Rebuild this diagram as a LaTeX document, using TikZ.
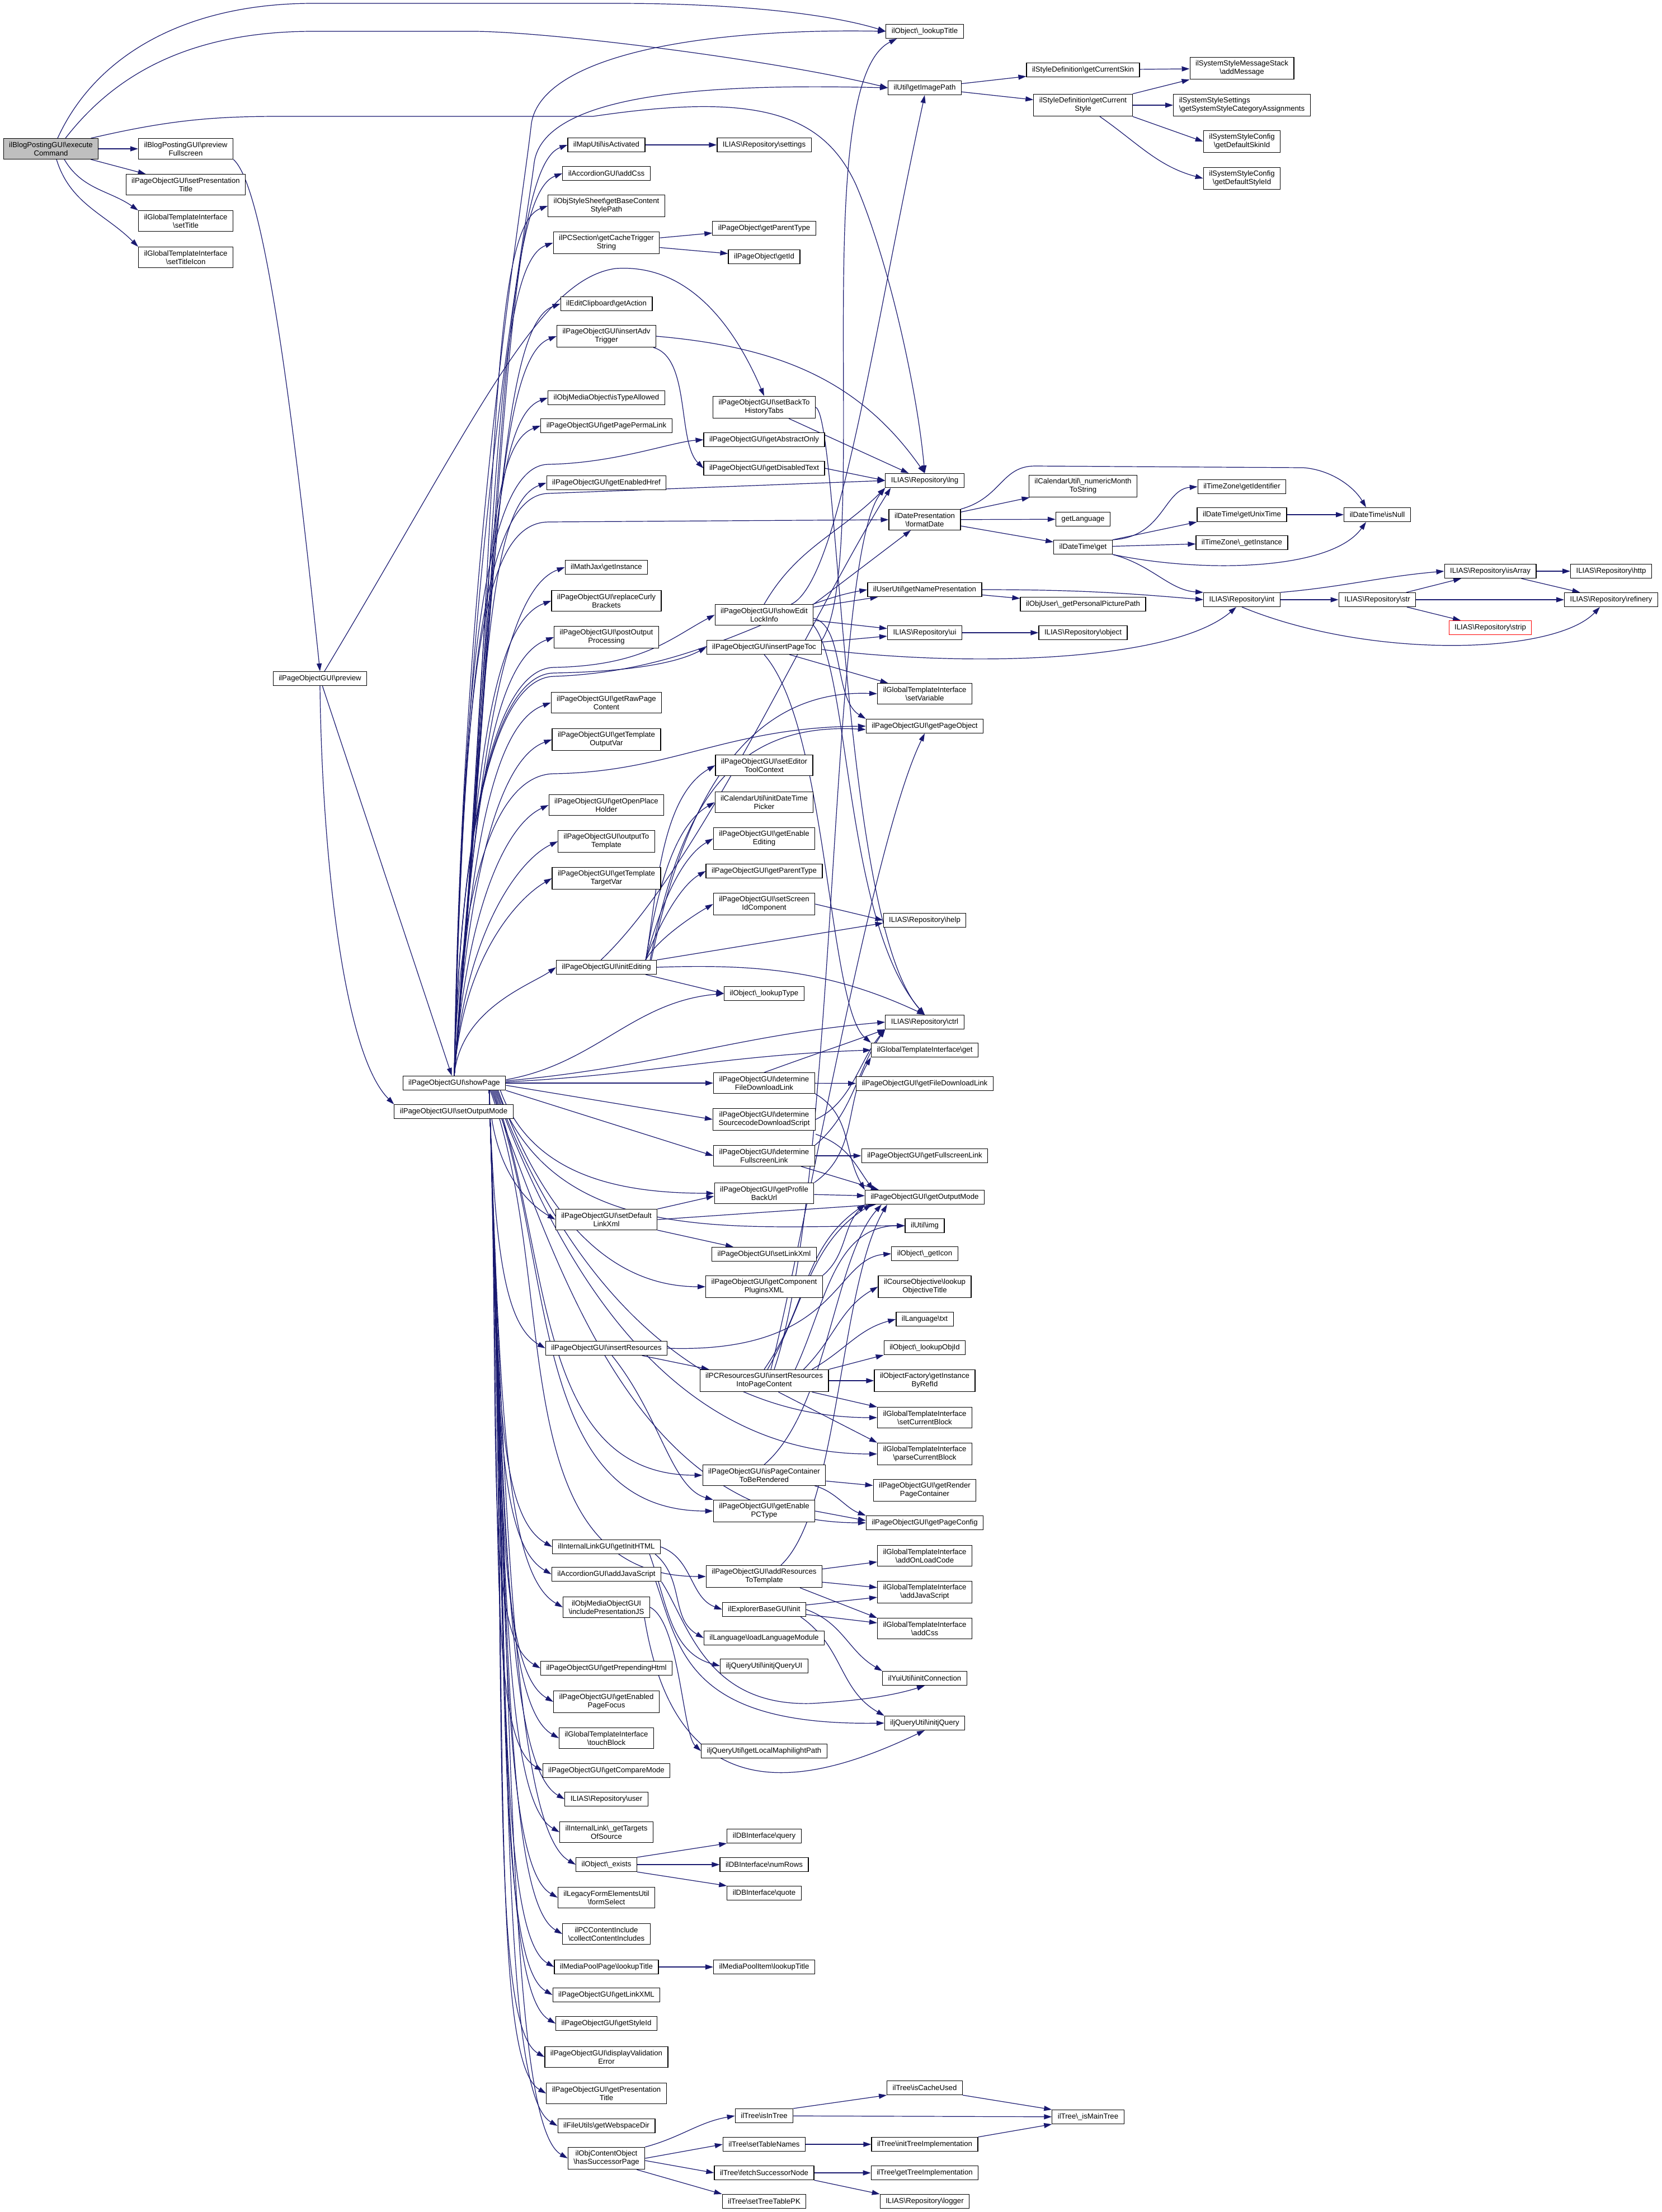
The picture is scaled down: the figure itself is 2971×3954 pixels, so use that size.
\documentclass[tikz,border=0pt]{standalone}
\usepackage{fontspec}
\setmainfont{Liberation Sans}
\usepackage{xcolor}
\usepackage{tikz}
\usetikzlibrary{arrows.meta,backgrounds}

\definecolor{edgeblue}{RGB}{25,25,112}
\definecolor{rootgray}{RGB}{191,191,191}
\newcommand{\bsl}{\textbackslash}

\begin{document}
\begin{tikzpicture}[x=1pt, y=-1pt,
  fn/.style={draw=black, line width=1.2pt, fill=white, align=center,
    font=\fontsize{13.2}{15}\selectfont, inner xsep=10pt, inner ysep=6pt,
    minimum height=25pt},
  rootfn/.style={fn, fill=rootgray},
  cutfn/.style={fn, draw=red},
  edge/.style={draw=edgeblue, line width=1.2pt, -{Triangle[length=14pt,width=9pt]}}
]
\useasboundingbox (0,0) rectangle (2971,3954);

% caller and first level
\node[rootfn] (exec) at (91,266) {ilBlogPostingGUI\bsl execute\\Command};
\node[fn] (prevFull) at (332,266) {ilBlogPostingGUI\bsl preview\\Fullscreen};
\node[fn] (setPresTitle) at (332,330) {ilPageObjectGUI\bsl setPresentation\\Title};
\node[fn] (setTitle) at (332,395) {ilGlobalTemplateInterface\\\bsl setTitle};
\node[fn] (setTitleIcon) at (332,460) {ilGlobalTemplateInterface\\\bsl setTitleIcon};
\node[fn] (preview) at (572,1213) {ilPageObjectGUI\bsl preview};
\node[fn] (showPage) at (812,1936) {ilPageObjectGUI\bsl showPage};
\node[fn] (setOutMode) at (811,1987) {ilPageObjectGUI\bsl setOutputMode};

% column called by showPage
\node[fn] (mapAct) at (1084,259) {ilMapUtil\bsl isActivated};
\node[fn] (accCss) at (1084,310) {ilAccordionGUI\bsl addCss};
\node[fn] (baseStyle) at (1084,368) {ilObjStyleSheet\bsl getBaseContent\\StylePath};
\node[fn] (cacheTrig) at (1084,434) {ilPCSection\bsl getCacheTrigger\\String};
\node[fn] (clipAct) at (1084,543) {ilEditClipboard\bsl getAction};
\node[fn] (advTrig) at (1084,601) {ilPageObjectGUI\bsl insertAdv\\Trigger};
\node[fn] (typeAllowed) at (1084,711) {ilObjMediaObject\bsl isTypeAllowed};
\node[fn] (permaLink) at (1084,761) {ilPageObjectGUI\bsl getPagePermaLink};
\node[fn] (enHref) at (1084,863) {ilPageObjectGUI\bsl getEnabledHref};
\node[fn] (mathJax) at (1084,1014) {ilMathJax\bsl getInstance};
\node[fn] (curly) at (1084,1074) {ilPageObjectGUI\bsl replaceCurly\\Brackets};
\node[fn] (postOut) at (1084,1139) {ilPageObjectGUI\bsl postOutput\\Processing};
\node[fn] (rawPage) at (1084,1256) {ilPageObjectGUI\bsl getRawPage\\Content};
\node[fn] (tplOut) at (1084,1322) {ilPageObjectGUI\bsl getTemplate\\OutputVar};
\node[fn] (openPH) at (1084,1439) {ilPageObjectGUI\bsl getOpenPlace\\Holder};
\node[fn] (outTpl) at (1084,1504) {ilPageObjectGUI\bsl outputTo\\Template};
\node[fn] (tplTarget) at (1084,1570) {ilPageObjectGUI\bsl getTemplate\\TargetVar};
\node[fn] (initEdit) at (1084,1729) {ilPageObjectGUI\bsl initEditing};
\node[fn] (defLink) at (1084,2180) {ilPageObjectGUI\bsl setDefault\\LinkXml};
\node[fn] (insRes) at (1084,2410) {ilPageObjectGUI\bsl insertResources};
\node[fn] (initHTML) at (1084,2765) {ilInternalLinkGUI\bsl getInitHTML};
\node[fn] (accJS) at (1084,2814) {ilAccordionGUI\bsl addJavaScript};
\node[fn] (presJS) at (1084,2873) {ilObjMediaObjectGUI\\\bsl includePresentationJS};
\node[fn] (prepHtml) at (1084,2982) {ilPageObjectGUI\bsl getPrependingHtml};
\node[fn] (pageFocus) at (1084,3042) {ilPageObjectGUI\bsl getEnabled\\PageFocus};
\node[fn] (touchBlock) at (1084,3107) {ilGlobalTemplateInterface\\\bsl touchBlock};
\node[fn] (compMode) at (1084,3165) {ilPageObjectGUI\bsl getCompareMode};
\node[fn] (repUser) at (1084,3216) {ILIAS\bsl Repository\bsl user};
\node[fn] (targets) at (1084,3275) {ilInternalLink\bsl\_getTargets\\OfSource};
\node[fn] (objExists) at (1084,3333) {ilObject\bsl\_exists};
\node[fn] (formSel) at (1084,3392) {ilLegacyFormElementsUtil\\\bsl formSelect};
\node[fn] (contInc) at (1084,3457) {ilPCContentInclude\\\bsl collectContentIncludes};
\node[fn] (mpPage) at (1084,3516) {ilMediaPoolPage\bsl lookupTitle};
\node[fn] (linkXML) at (1084,3566) {ilPageObjectGUI\bsl getLinkXML};
\node[fn] (styleId) at (1084,3617) {ilPageObjectGUI\bsl getStyleId};
\node[fn] (valErr) at (1084,3677) {ilPageObjectGUI\bsl displayValidation\\Error};
\node[fn] (getPresTitle) at (1084,3742) {ilPageObjectGUI\bsl getPresentation\\Title};
\node[fn] (webDir) at (1084,3800) {ilFileUtils\bsl getWebspaceDir};
\node[fn] (hasSucc) at (1084,3858) {ilObjContentObject\\\bsl hasSuccessorPage};

% next column
\node[fn] (repSettings) at (1366,259) {ILIAS\bsl Repository\bsl settings};
\node[fn] (poParent) at (1366,408) {ilPageObject\bsl getParentType};
\node[fn] (poId) at (1366,459) {ilPageObject\bsl getId};
\node[fn] (backTabs) at (1366,728) {ilPageObjectGUI\bsl setBackTo\\HistoryTabs};
\node[fn] (absOnly) at (1366,786) {ilPageObjectGUI\bsl getAbstractOnly};
\node[fn] (disText) at (1366,837) {ilPageObjectGUI\bsl getDisabledText};
\node[fn] (lockInfo) at (1366,1099) {ilPageObjectGUI\bsl showEdit\\LockInfo};
\node[fn] (pageToc) at (1366,1157) {ilPageObjectGUI\bsl insertPageToc};
\node[fn] (toolCtx) at (1366,1368) {ilPageObjectGUI\bsl setEditor\\ToolContext};
\node[fn] (dtPicker) at (1366,1434) {ilCalendarUtil\bsl initDateTime\\Picker};
\node[fn] (enEdit) at (1366,1499) {ilPageObjectGUI\bsl getEnable\\Editing};
\node[fn] (guiParent) at (1366,1557) {ilPageObjectGUI\bsl getParentType};
\node[fn] (screenId) at (1366,1616) {ilPageObjectGUI\bsl setScreen\\IdComponent};
\node[fn] (lookupType) at (1366,1776) {ilObject\bsl\_lookupType};
\node[fn] (detFile) at (1366,1936) {ilPageObjectGUI\bsl determine\\FileDownloadLink};
\node[fn] (detSrc) at (1366,2001) {ilPageObjectGUI\bsl determine\\SourcecodeDownloadScript};
\node[fn] (detFull) at (1366,2066) {ilPageObjectGUI\bsl determine\\FullscreenLink};
\node[fn] (profUrl) at (1366,2133) {ilPageObjectGUI\bsl getProfile\\BackUrl};
\node[fn] (setLink) at (1366,2242) {ilPageObjectGUI\bsl setLinkXml};
\node[fn] (compXML) at (1366,2300) {ilPageObjectGUI\bsl getComponent\\PluginsXML};
\node[fn] (pcRes) at (1366,2468) {ilPCResourcesGUI\bsl insertResources\\IntoPageContent};
\node[fn] (pcRender) at (1366,2637) {ilPageObjectGUI\bsl isPageContainer\\ToBeRendered};
\node[fn] (enPC) at (1366,2701) {ilPageObjectGUI\bsl getEnable\\PCType};
\node[fn] (addRes) at (1366,2818) {ilPageObjectGUI\bsl addResources\\ToTemplate};
\node[fn] (explInit) at (1366,2877) {ilExplorerBaseGUI\bsl init};
\node[fn] (loadLang) at (1366,2928) {ilLanguage\bsl loadLanguageModule};
\node[fn] (jqUI) at (1366,2978) {iljQueryUtil\bsl initjQueryUI};
\node[fn] (maphi) at (1366,3130) {iljQueryUtil\bsl getLocalMaphilightPath};
\node[fn] (dbQuery) at (1366,3282) {ilDBInterface\bsl query};
\node[fn] (dbRows) at (1366,3333) {ilDBInterface\bsl numRows};
\node[fn] (dbQuote) at (1366,3384) {ilDBInterface\bsl quote};
\node[fn] (mpItem) at (1366,3516) {ilMediaPoolItem\bsl lookupTitle};
\node[fn] (inTree) at (1366,3782) {ilTree\bsl isInTree};
\node[fn] (tabNames) at (1366,3833) {ilTree\bsl setTableNames};
\node[fn] (fetchSucc) at (1366,3884) {ilTree\bsl fetchSuccessorNode};
\node[fn] (tablePK) at (1366,3935) {ilTree\bsl setTreeTablePK};

% third column
\node[fn] (lookupTitle) at (1653,56) {ilObject\bsl\_lookupTitle};
\node[fn] (imgPath) at (1653,157) {ilUtil\bsl getImagePath};
\node[fn] (repLng) at (1653,859) {ILIAS\bsl Repository\bsl lng};
\node[fn] (fmtDate) at (1653,929) {ilDatePresentation\\\bsl formatDate};
\node[fn] (namePres) at (1653,1054) {ilUserUtil\bsl getNamePresentation};
\node[fn] (repUi) at (1653,1131) {ILIAS\bsl Repository\bsl ui};
\node[fn] (setVar) at (1653,1240) {ilGlobalTemplateInterface\\\bsl setVariable};
\node[fn] (getPO) at (1653,1298) {ilPageObjectGUI\bsl getPageObject};
\node[fn] (repHelp) at (1653,1645) {ILIAS\bsl Repository\bsl help};
\node[fn] (repCtrl) at (1653,1827) {ILIAS\bsl Repository\bsl ctrl};
\node[fn] (tplGet) at (1653,1877) {ilGlobalTemplateInterface\bsl get};
\node[fn] (fileLink) at (1653,1937) {ilPageObjectGUI\bsl getFileDownloadLink};
\node[fn] (fullLink) at (1653,2066) {ilPageObjectGUI\bsl getFullscreenLink};
\node[fn] (outMode) at (1653,2140) {ilPageObjectGUI\bsl getOutputMode};
\node[fn] (utilImg) at (1653,2191) {ilUtil\bsl img};
\node[fn] (getIcon) at (1653,2241) {ilObject\bsl\_getIcon};
\node[fn] (objTitle) at (1653,2300) {ilCourseObjective\bsl lookup\\ObjectiveTitle};
\node[fn] (langTxt) at (1653,2358) {ilLanguage\bsl txt};
\node[fn] (lookupObjId) at (1653,2409) {ilObject\bsl\_lookupObjId};
\node[fn] (byRefId) at (1653,2468) {ilObjectFactory\bsl getInstance\\ByRefId};
\node[fn] (setBlock) at (1653,2534) {ilGlobalTemplateInterface\\\bsl setCurrentBlock};
\node[fn] (parseBlock) at (1653,2599) {ilGlobalTemplateInterface\\\bsl parseCurrentBlock};
\node[fn] (renderPC) at (1653,2664) {ilPageObjectGUI\bsl getRender\\PageContainer};
\node[fn] (pageConfig) at (1653,2722) {ilPageObjectGUI\bsl getPageConfig};
\node[fn] (onLoad) at (1653,2781) {ilGlobalTemplateInterface\\\bsl addOnLoadCode};
\node[fn] (tplJS) at (1653,2846) {ilGlobalTemplateInterface\\\bsl addJavaScript};
\node[fn] (tplCss) at (1653,2911) {ilGlobalTemplateInterface\\\bsl addCss};
\node[fn] (yuiConn) at (1653,3000) {ilYuiUtil\bsl initConnection};
\node[fn] (jq) at (1653,3080) {iljQueryUtil\bsl initjQuery};
\node[fn] (cacheUsed) at (1653,3732) {ilTree\bsl isCacheUsed};
\node[fn] (initTree) at (1653,3833) {ilTree\bsl initTreeImplementation};
\node[fn] (getTree) at (1653,3884) {ilTree\bsl getTreeImplementation};
\node[fn] (repLogger) at (1653,3935) {ILIAS\bsl Repository\bsl logger};

% right part
\node[fn] (curSkin) at (1936,125) {ilStyleDefinition\bsl getCurrentSkin};
\node[fn] (curStyle) at (1936,188) {ilStyleDefinition\bsl getCurrent\\Style};
\node[fn] (monthStr) at (1936,869) {ilCalendarUtil\bsl\_numericMonth\\ToString};
\node[fn] (getLang) at (1936,928) {getLanguage};
\node[fn] (dtGet) at (1936,978) {ilDateTime\bsl get};
\node[fn] (picPath) at (1936,1080) {ilObjUser\bsl\_getPersonalPicturePath};
\node[fn] (repObject) at (1936,1131) {ILIAS\bsl Repository\bsl object};
\node[fn] (mainTree) at (1945,3784) {ilTree\bsl\_isMainTree};
\node[fn] (addMsg) at (2220,122) {ilSystemStyleMessageStack\\\bsl addMessage};
\node[fn, align=left] (catAssign) at (2220,188) {ilSystemStyleSettings\\\bsl getSystemStyleCategoryAssignments};
\node[fn] (skinId) at (2220,253) {ilSystemStyleConfig\\\bsl getDefaultSkinId};
\node[fn] (styleIdCfg) at (2220,319) {ilSystemStyleConfig\\\bsl getDefaultStyleId};
\node[fn] (tzId) at (2220,870) {ilTimeZone\bsl getIdentifier};
\node[fn] (unixTime) at (2220,920) {ilDateTime\bsl getUnixTime};
\node[fn] (tzInst) at (2220,970) {ilTimeZone\bsl\_getInstance};
\node[fn] (repInt) at (2220,1072) {ILIAS\bsl Repository\bsl int};
\node[fn] (isNull) at (2462,920) {ilDateTime\bsl isNull};
\node[fn] (repStr) at (2462,1072) {ILIAS\bsl Repository\bsl str};
\node[fn] (isArray) at (2664,1021) {ILIAS\bsl Repository\bsl isArray};
\node[cutfn] (strip) at (2664,1122) {ILIAS\bsl Repository\bsl strip};
\node[fn] (http) at (2880,1021) {ILIAS\bsl Repository\bsl http};
\node[fn] (refinery) at (2880,1072) {ILIAS\bsl Repository\bsl refinery};

\begin{scope}[on background layer]
% executeCommand
\draw[edge] (exec) -- (prevFull);
\draw[edge] (exec) -- (setPresTitle);
\draw[edge] ([xshift=24pt]exec.south) .. controls +(-60:62pt) and +(145:62pt) .. (setTitle.north west);
\draw[edge] ([xshift=10pt]exec.south) .. controls +(-73:83pt) and +(135:83pt) .. (setTitleIcon.north west);
\draw[edge] ([xshift=12pt]exec.north) .. controls (170,100) and (330,6) .. (560,6) -- (1100,6) .. controls (1350,6) and (1500,30) .. (lookupTitle.west);
\draw[edge] ([xshift=26pt]exec.north) .. controls (200,140) and (330,56) .. (560,56) -- (850,56) .. controls (1000,58) and (1400,110) .. (imgPath.west);
\draw[edge] ([xshift=-14pt]exec.north east) .. controls (300,215) and (380,208) .. (500,208) -- (1060,208) .. controls (1350,165) and (1470,200) .. (1530,330) .. controls (1590,470) and (1640,700) .. (repLng.north);
\draw[edge] (prevFull.south east) .. controls (470,330) and (520,700) .. (preview.north);

% preview
\draw[edge] (preview) -- (showPage);
\draw[edge] (preview.south) .. controls (575,1500) and (610,1880) .. (setOutMode.north west);
\draw[edge] ([xshift=8pt]preview.north) .. controls (850,750) and (960,500) .. (1100,480) .. controls (1240,470) and (1320,600) .. (backTabs.north);

% showPage, upwards
\draw[edge] (showPage.north) .. controls +(85:1000pt) and +(200:120pt) .. (mapAct.west);
\draw[edge] (showPage.north) .. controls +(85:970pt) and +(200:120pt) .. (accCss.west);
\draw[edge] (showPage.north) .. controls +(85:930pt) and +(200:120pt) .. (baseStyle.west);
\draw[edge] (showPage.north) .. controls +(85:890pt) and +(200:120pt) .. (cacheTrig.west);
\draw[edge] (showPage.north) .. controls +(85:830pt) and +(200:120pt) .. (clipAct.west);
\draw[edge] (showPage.north) .. controls +(85:790pt) and +(200:120pt) .. (advTrig.west);
\draw[edge] (showPage.north) .. controls +(85:730pt) and +(200:120pt) .. (typeAllowed.west);
\draw[edge] (showPage.north) .. controls +(85:700pt) and +(200:120pt) .. (permaLink.west);
\draw[edge] (showPage.north) .. controls +(85:640pt) and +(200:120pt) .. (enHref.west);
\draw[edge] (showPage.north) .. controls +(86:545pt) and +(200:120pt) .. (mathJax.west);
\draw[edge] (showPage.north) .. controls +(86:510pt) and +(200:120pt) .. (curly.west);
\draw[edge] (showPage.north) .. controls +(86:470pt) and +(200:120pt) .. (postOut.west);
\draw[edge] (showPage.north) .. controls +(86:400pt) and +(200:110pt) .. (rawPage.west);
\draw[edge] (showPage.north) .. controls +(86:360pt) and +(200:100pt) .. (tplOut.west);
\draw[edge] (showPage.north) .. controls +(86:290pt) and +(205:88pt) .. (openPH.west);
\draw[edge] (showPage.north) .. controls +(86:250pt) and +(205:80pt) .. (outTpl.west);
\draw[edge] (showPage.north) .. controls +(86:210pt) and +(210:72pt) .. (tplTarget.west);
\draw[edge] (showPage.north) .. controls +(85:120pt) and +(215:55pt) .. (initEdit.west);
\draw[edge] (showPage.north) .. controls (825,1000) and (930,400) .. (950,220) .. controls (970,100) and (1250,50) .. (lookupTitle.west);
\draw[edge] (showPage.north) .. controls (828,1000) and (935,450) .. (955,290) .. controls (975,160) and (1300,150) .. (imgPath.west);
\draw[edge] (showPage.north) .. controls (828,1250) and (860,885) .. (980,882) -- (repLng.west);
\draw[edge] (showPage.north) .. controls (830,1200) and (860,935) .. (980,933) -- (fmtDate.west);
\draw[edge] (showPage.north) .. controls (826,1250) and (860,832) .. (980,830) .. controls (1100,828) and (1200,790) .. (absOnly.west);
\draw[edge] (showPage.north) .. controls (822,1500) and (880,1195) .. (990,1193) .. controls (1150,1190) and (1200,1140) .. (lockInfo.west);
\draw[edge] (showPage.north) .. controls (822,1500) and (880,1205) .. (990,1203) .. controls (1150,1200) and (1220,1180) .. (pageToc.west);
\draw[edge] (showPage.north) .. controls (822,1500) and (880,1212) .. (990,1209) .. controls (1250,1200) and (1400,1080) .. (namePres.west);
\draw[edge] (showPage.north) .. controls (820,1600) and (880,1385) .. (990,1383) .. controls (1200,1380) and (1300,1300) .. (getPO.west);

% showPage, to the right
\draw[edge] ([yshift=6pt]showPage.east) .. controls +(10:164pt) and +(185:164pt) .. (lookupType.west);
\draw[edge] ([yshift=4pt]showPage.east) .. controls +(5:268pt) and +(185:268pt) .. (repCtrl.west);
\draw[edge] ([yshift=2pt]showPage.east) .. controls +(3:256pt) and +(182:256pt) .. (tplGet.west);
\draw[edge] (showPage.east) -- (detFile.west);
\draw[edge] ([yshift=-4pt]showPage.east) -- (detSrc.west);
\draw[edge] (showPage.south east) -- (detFull.west);
\draw[edge] ([xshift=-10pt]showPage.south east) .. controls +(-70:165pt) and +(180:165pt) .. (profUrl.west);
\draw[edge] ([xshift=-14pt]showPage.south east) .. controls +(-70:195pt) and +(180:195pt) .. (compXML.west);
\draw[edge] ([xshift=-16pt]showPage.south east) .. controls +(-70:300pt) and +(180:300pt) .. (utilImg.west);
\draw[edge] ([xshift=-18pt]showPage.south east) .. controls +(-70:340pt) and +(180:340pt) .. (setBlock.west);
\draw[edge] ([xshift=-20pt]showPage.south east) .. controls +(-70:360pt) and +(180:360pt) .. (parseBlock.west);
\draw[edge] ([xshift=-22pt]showPage.south east) .. controls +(-70:305pt) and +(180:305pt) .. (pcRender.west);
\draw[edge] ([xshift=-24pt]showPage.south east) .. controls +(-70:330pt) and +(180:330pt) .. (enPC.west);
\draw[edge] ([xshift=-26pt]showPage.south east) .. controls +(-70:395pt) and +(180:395pt) .. (pageConfig.west);
\draw[edge] ([xshift=-28pt]showPage.south east) .. controls +(-70:370pt) and +(180:370pt) .. (addRes.west);

% showPage, downwards
\draw[edge] ([xshift=-30pt]showPage.south east) .. controls +(-88:140pt) and +(150:58pt) .. (defLink.west);
\draw[edge] ([xshift=-30pt]showPage.south east) .. controls +(-88:280pt) and +(150:85pt) .. (insRes.west);
\draw[edge] ([xshift=-30pt]showPage.south east) .. controls +(-88:490pt) and +(150:120pt) .. (initHTML.west);
\draw[edge] ([xshift=-30pt]showPage.south east) .. controls +(-88:520pt) and +(150:120pt) .. (accJS.west);
\draw[edge] ([xshift=-30pt]showPage.south east) .. controls +(-88:555pt) and +(150:120pt) .. (presJS.west);
\draw[edge] ([xshift=-30pt]showPage.south east) .. controls +(-88:620pt) and +(150:120pt) .. (prepHtml.west);
\draw[edge] ([xshift=-30pt]showPage.south east) .. controls +(-88:655pt) and +(150:120pt) .. (pageFocus.west);
\draw[edge] ([xshift=-30pt]showPage.south east) .. controls +(-88:695pt) and +(150:120pt) .. (touchBlock.west);
\draw[edge] ([xshift=-30pt]showPage.south east) .. controls +(-88:730pt) and +(150:120pt) .. (compMode.west);
\draw[edge] ([xshift=-30pt]showPage.south east) .. controls +(-88:760pt) and +(150:120pt) .. (repUser.west);
\draw[edge] ([xshift=-30pt]showPage.south east) .. controls +(-88:795pt) and +(150:120pt) .. (targets.west);
\draw[edge] ([xshift=-30pt]showPage.south east) .. controls +(-88:830pt) and +(150:120pt) .. (objExists.west);
\draw[edge] ([xshift=-30pt]showPage.south east) .. controls +(-88:865pt) and +(150:120pt) .. (formSel.west);
\draw[edge] ([xshift=-30pt]showPage.south east) .. controls +(-88:905pt) and +(150:120pt) .. (contInc.west);
\draw[edge] ([xshift=-30pt]showPage.south east) .. controls +(-88:940pt) and +(150:120pt) .. (mpPage.west);
\draw[edge] ([xshift=-30pt]showPage.south east) .. controls +(-88:970pt) and +(150:120pt) .. (linkXML.west);
\draw[edge] ([xshift=-30pt]showPage.south east) .. controls +(-88:1000pt) and +(150:120pt) .. (styleId.west);
\draw[edge] ([xshift=-30pt]showPage.south east) .. controls +(-88:1035pt) and +(150:120pt) .. (valErr.west);
\draw[edge] ([xshift=-30pt]showPage.south east) .. controls +(-88:1075pt) and +(150:120pt) .. (getPresTitle.west);
\draw[edge] ([xshift=-30pt]showPage.south east) .. controls +(-88:1110pt) and +(150:120pt) .. (webDir.west);
\draw[edge] ([xshift=-30pt]showPage.south east) .. controls +(-88:1145pt) and +(150:120pt) .. (hasSucc.west);

% second level, upper half
\draw[edge] (mapAct) -- (repSettings);
\draw[edge] (cacheTrig) -- (poParent);
\draw[edge] (cacheTrig) -- (poId);
\draw[edge] (advTrig.east) .. controls +(-5:210pt) and +(125:210pt) .. (repLng.north);
\draw[edge] ([xshift=-5pt]advTrig.south east) .. controls (1235,640) and (1210,790) .. (disText.west);
\draw[edge] (backTabs) -- (repLng);
\draw[edge] (backTabs.east) .. controls (1500,745) and (1505,1650) .. (repCtrl.north);
\draw[edge] (disText.east) -- (repLng.west);
\draw[edge] (lockInfo) -- (namePres);
\draw[edge] (lockInfo) -- (repUi);
\draw[edge] (lockInfo.north east) -- (fmtDate);
\draw[edge] (lockInfo.north) .. controls +(60:117pt) and +(225:117pt) .. (repLng.south west);
\draw[edge] ([xshift=-40pt]lockInfo.north east) .. controls (1500,1040) and (1560,600) .. (imgPath.south);
\draw[edge] ([yshift=-6pt]lockInfo.east) .. controls (1510,1120) and (1490,1250) .. (getPO.north west);
\draw[edge] (lockInfo.south east) .. controls (1520,1200) and (1510,1650) .. (repCtrl.north);
\draw[edge] (pageToc) -- (repUi);
\draw[edge] (pageToc) -- (setVar);
\draw[edge] (pageToc.north east) .. controls (1560,1000) and (1440,150) .. ([xshift=20pt]lookupTitle.south west);
\draw[edge] ([yshift=-4pt]pageToc.east) .. controls (1750,1195) and (2100,1180) .. ([xshift=-10pt]repInt.south);
\draw[edge] (pageToc.south) .. controls (1480,1300) and (1480,1800) .. (tplGet.north west);

% initEditing
\draw[edge] ([xshift=-20pt]initEdit.north east) .. controls +(80:114pt) and +(210:114pt) .. (toolCtx.west);
\draw[edge] ([xshift=-20pt]initEdit.north east) .. controls +(80:94pt) and +(210:94pt) .. (dtPicker.west);
\draw[edge] ([xshift=-20pt]initEdit.north east) .. controls +(75:74pt) and +(210:74pt) .. (enEdit.west);
\draw[edge] ([xshift=-20pt]initEdit.north east) .. controls +(70:56pt) and +(210:56pt) .. (guiParent.west);
\draw[edge] ([xshift=-20pt]initEdit.north east) .. controls +(60:43pt) and +(210:43pt) .. (screenId.west);
\draw[edge] ([xshift=-10pt]initEdit.north east) .. controls (1210,1500) and (1300,1230) .. (setVar.west);
\draw[edge] ([xshift=-12pt]initEdit.north east) .. controls (1215,1450) and (1300,1290) .. ([yshift=-6pt]getPO.west);
\draw[edge] ([xshift=-100pt]initEdit.north east) .. controls (1250,1550) and (1450,1100) .. ([xshift=10pt]repLng.south west);
\draw[edge] (initEdit.north east) -- ([yshift=-5pt]repHelp.west);
\draw[edge] (initEdit.east) .. controls +(2:184pt) and +(155:184pt) .. (repCtrl.north);
\draw[edge] ([xshift=-20pt]initEdit.south east) -- (lookupType.west);
\draw[edge] (screenId.east) -- (repHelp.west);

% determine ... and links
\draw[edge] (detFile) -- (fileLink);
\draw[edge] (detFile.north) .. controls +(20:90pt) and +(200:90pt) .. (repCtrl.south west);
\draw[edge] (detFile.south east) .. controls +(-30:76pt) and +(120:76pt) .. (outMode.north west);
\draw[edge] (detSrc.east) .. controls +(25:72pt) and +(230:72pt) .. (repCtrl.south west);
\draw[edge] ([yshift=-6pt]detSrc.south east) .. controls +(-20:60pt) and +(125:60pt) .. ([xshift=15pt]outMode.north west);
\draw[edge] (detFull) -- (fullLink);
\draw[edge] (detFull.north east) .. controls +(40:90pt) and +(235:90pt) .. (repCtrl.south west);
\draw[edge] ([xshift=-25pt]detFull.south east) -- ([xshift=25pt]outMode.north west);
\draw[edge] (profUrl) -- (outMode);
\draw[edge] (profUrl.north east) .. controls +(35:96pt) and +(240:96pt) .. (tplGet.south west);
\draw[edge] (defLink.north east) -- ([yshift=-5pt]profUrl.west);
\draw[edge] (defLink.east) -- ([xshift=20pt]outMode.south west);
\draw[edge] (defLink.south east) -- ([xshift=-55pt]setLink.north);
\draw[edge] (compXML.north east) .. controls +(40:56pt) and +(225:56pt) .. (outMode.south west);

% resources
\draw[edge] (insRes) -- (pcRes);
\draw[edge] (insRes.east) .. controls (1500,2420) and (1490,2250) .. (getIcon.west);
\draw[edge] ([xshift=10pt]insRes.south) .. controls (1180,2530) and (1200,2660) .. (enPC.north west);
\draw[edge] (pcRes) -- (byRefId);
\draw[edge] (pcRes.north east) -- (lookupObjId.south west);
\draw[edge] ([xshift=-30pt]pcRes.north east) .. controls +(30:69pt) and +(195:69pt) .. (langTxt.west);
\draw[edge] ([xshift=-45pt]pcRes.north east) .. controls +(45:78pt) and +(210:78pt) .. (objTitle.west);
\draw[edge] ([xshift=-60pt]pcRes.north east) .. controls +(65:127pt) and +(180:127pt) .. (utilImg.west);
\draw[edge] (pcRes.north) .. controls +(55:136pt) and +(215:136pt) .. (outMode.south west);
\draw[edge] ([xshift=6pt]pcRes.north) .. controls +(60:130pt) and +(212:130pt) .. ([xshift=12pt]outMode.south west);
\draw[edge] ([xshift=12pt]pcRes.north) .. controls (1440,2200) and (1560,1500) .. (getPO.south);
\draw[edge] ([xshift=18pt]pcRes.north) .. controls (1500,2100) and (1480,1000) .. (repLng.south west);
\draw[edge] ([xshift=-30pt]pcRes.south east) -- (setBlock.north west);
\draw[edge] ([xshift=-90pt]pcRes.south east) -- (parseBlock.north west);
\draw[edge] (pcRender) -- (renderPC);
\draw[edge] ([xshift=-20pt]pcRender.south east) .. controls +(-15:38pt) and +(160:38pt) .. (pageConfig.north west);
\draw[edge] (pcRender.north) .. controls (1480,2520) and (1490,2250) .. ([xshift=30pt]outMode.south west);
\draw[edge] (enPC.east) -- ([yshift=4pt]pageConfig.west);
\draw[edge] (addRes) -- (onLoad);
\draw[edge] (addRes) -- (tplJS);
\draw[edge] ([xshift=-40pt]addRes.south east) -- (tplCss.north west);
\draw[edge] ([xshift=30pt]addRes.north) .. controls (1500,2700) and (1500,2300) .. ([xshift=40pt]outMode.south west);
\draw[edge] (explInit) -- (tplJS);
\draw[edge] (explInit) -- (tplCss);
\draw[edge] (explInit.east) .. controls +(-20:70pt) and +(150:70pt) .. (yuiConn.north west);
\draw[edge] ([xshift=-10pt]explInit.south east) .. controls +(-35:94pt) and +(150:94pt) .. (jq.north west);
\draw[edge] (initHTML.east) .. controls +(-20:61pt) and +(160:61pt) .. (explInit.west);
\draw[edge] ([xshift=-10pt]initHTML.south east) .. controls +(-40:69pt) and +(150:69pt) .. (loadLang.west);
\draw[edge] ([xshift=-20pt]initHTML.south east) .. controls +(-70:93pt) and +(165:93pt) .. (jqUI.west);
\draw[edge] (accJS.south east) .. controls (1230,2900) and (1260,3050) .. (1450,3045) .. controls (1540,3040) and (1600,3030) .. (yuiConn.south);
\draw[edge] ([xshift=-10pt]accJS.south east) .. controls (1215,2950) and (1230,3085) .. (jq.west);
\draw[edge] (presJS.east) .. controls (1215,2900) and (1220,3100) .. (maphi.west);
\draw[edge] ([xshift=-10pt]presJS.south east) .. controls (1210,3250) and (1450,3190) .. (jq.south);

% lower callees
\draw[edge] (objExists.north east) -- (dbQuery.south west);
\draw[edge] (objExists) -- (dbRows);
\draw[edge] (objExists.south east) -- (dbQuote.north west);
\draw[edge] (mpPage) -- (mpItem);
\draw[edge] (hasSucc.north east) .. controls +(15:66pt) and +(190:66pt) .. (inTree.west);
\draw[edge] (hasSucc.east) -- (tabNames.west);
\draw[edge] ([yshift=-4pt]hasSucc.east) -- (fetchSucc.west);
\draw[edge] ([xshift=-15pt]hasSucc.south east) -- (tablePK.north west);
\draw[edge] (inTree.north east) -- (cacheUsed.south west);
\draw[edge] (inTree) -- (mainTree);
\draw[edge] (cacheUsed.south east) -- (mainTree.north west);
\draw[edge] (tabNames) -- (initTree);
\draw[edge] (initTree.north east) -- (mainTree.south west);
\draw[edge] (fetchSucc) -- (getTree);
\draw[edge] (fetchSucc.south east) -- (repLogger.north west);

% right part
\draw[edge] (imgPath) -- (curSkin);
\draw[edge] (imgPath) -- (curStyle);
\draw[edge] (curSkin) -- (addMsg);
\draw[edge] (curStyle.north east) -- (addMsg.south west);
\draw[edge] (curStyle) -- (catAssign);
\draw[edge] (curStyle.south east) -- (skinId.west);
\draw[edge] ([xshift=30pt]curStyle.south) .. controls +(-35:84pt) and +(165:84pt) .. (styleIdCfg.west);
\draw[edge] (fmtDate) -- (monthStr);
\draw[edge] (fmtDate) -- (getLang);
\draw[edge] (fmtDate) -- (dtGet);
\draw[edge] (fmtDate.north east) .. controls (1790,890) and (1790,833) .. (1850,833) -- (2330,836) .. controls (2380,840) and (2420,870) .. ([xshift=-20pt]isNull.north);
\draw[edge] (namePres) -- (picPath);
\draw[edge] (namePres.east) .. controls +(0:153pt) and +(175:153pt) .. (repInt.west);
\draw[edge] (repUi) -- (repObject);
\draw[edge] (dtGet.north east) .. controls (2080,960) and (2080,875) .. (tzId.west);
\draw[edge] (dtGet.north east) -- (unixTime.south west);
\draw[edge] (dtGet) -- (tzInst);
\draw[edge] (dtGet.south east) .. controls (2150,1025) and (2380,1020) .. ([xshift=-20pt]isNull.south);
\draw[edge] (dtGet.south east) .. controls (2060,1010) and (2090,1055) .. (repInt.north west);
\draw[edge] (unixTime) -- (isNull);
\draw[edge] (repInt.north east) .. controls +(5:115pt) and +(185:115pt) .. (isArray.west);
\draw[edge] (repInt) -- (repStr);
\draw[edge] (repInt.south) .. controls (2450,1180) and (2780,1170) .. ([xshift=-20pt]refinery.south);
\draw[edge] (repStr) -- (isArray);
\draw[edge] (repStr) -- (refinery);
\draw[edge] (repStr) -- (strip);
\draw[edge] (isArray) -- (http);
\draw[edge] (isArray) -- (refinery);
\end{scope}
\end{tikzpicture}
\end{document}
